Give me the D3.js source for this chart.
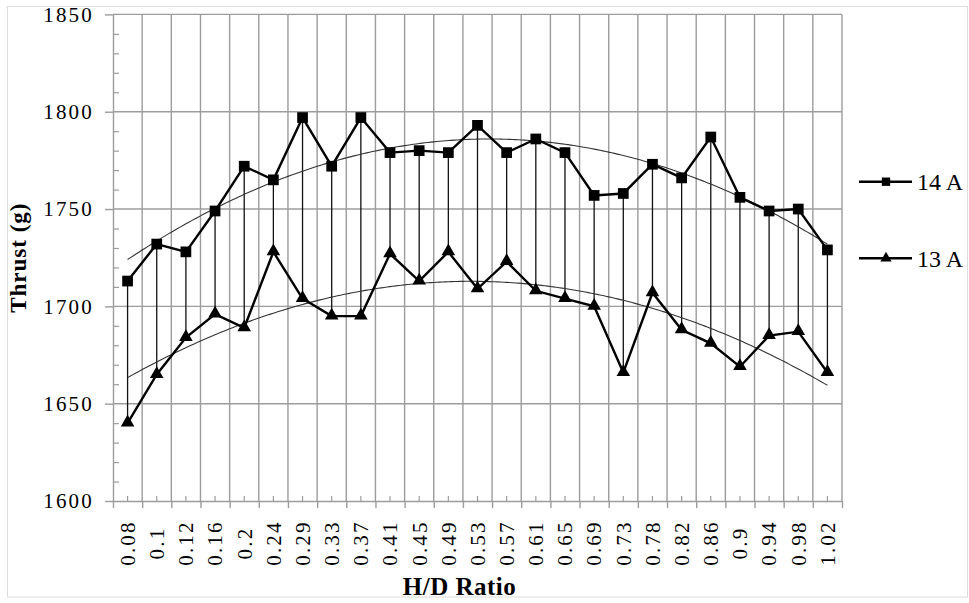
<!DOCTYPE html>
<html>
<head>
<meta charset="utf-8">
<script src="https://cdn.jsdelivr.net/npm/d3@7/dist/d3.min.js"></script>
<style>
  html, body { margin: 0; padding: 0; background: #fff; }
  svg { display: block; }
  text { font-family: 'Liberation Serif', 'Times New Roman', serif; }
</style>
</head>
<body>
<svg id="chart" width="969" height="603"></svg>
<script>
const categories = ["0.08","0.1","0.12","0.16","0.2","0.24","0.29","0.33","0.37","0.41","0.45","0.49","0.53","0.57","0.61","0.65","0.69","0.73","0.78","0.82","0.86","0.9","0.94","0.98","1.02"];
const thrust14A = [1713,1732,1728,1749,1772,1765,1797,1772,1797,1779,1780,1779,1793,1779,1786,1779,1757,1758,1773,1766,1787,1756,1749,1750,1729];
const thrust13A = [1640,1665,1684,1696,1689,1728,1704,1695,1695,1727,1713,1728,1709,1723,1708,1704,1700,1666,1707,1688,1681,1669,1685,1687,1666];
const seriesNames = ["14 A", "13 A"];
const yTicks = [1600,1650,1700,1750,1800,1850];
const yLabel = "Thrust (g)";
const xLabel = "H/D Ratio";

const svg = d3.select("#chart");
const L = 113, R = 842, T = 14.4, B = 501;
const serif = "'Liberation Serif', 'Times New Roman', serif";
const gridColor = "#9c9c9c";

// outer frame
svg.append("rect").attr("x", 7.5).attr("y", 6.5).attr("width", 960).attr("height", 590.5)
  .attr("fill", "none").attr("stroke", "#dcdcdc").attr("stroke-width", 1);

const x = d3.scaleBand().domain(categories).range([L, R]).padding(0);
const xEdge = d3.scaleLinear().domain([0, categories.length]).range([L, R]);
const y = d3.scaleLinear().domain([1600, 1850]).range([B, T]);
const cx = c => x(c) + x.bandwidth() / 2;

// horizontal gridlines
svg.append("g").selectAll("line").data(yTicks.filter(v => v > 1600)).join("line")
  .attr("x1", L).attr("x2", R).attr("y1", d => y(d)).attr("y2", d => y(d))
  .attr("stroke", gridColor).attr("stroke-width", 1.4);

// vertical gridlines at category boundaries
svg.append("g").selectAll("line").data(d3.range(1, categories.length + 1)).join("line")
  .attr("x1", d => xEdge(d)).attr("x2", d => xEdge(d)).attr("y1", T).attr("y2", B)
  .attr("stroke", gridColor).attr("stroke-width", 1.4);

// Y axis (major, left)
const yAxis = svg.append("g").attr("transform", `translate(${L},0)`)
  .call(d3.axisLeft(y).tickValues(yTicks).tickFormat(d3.format("d")).tickSize(8).tickPadding(13).tickSizeOuter(0));
yAxis.attr("font-family", null);
yAxis.select(".domain").attr("stroke", gridColor).attr("stroke-width", 1.4);
yAxis.selectAll(".tick line").attr("stroke", gridColor).attr("stroke-width", 1.4);
yAxis.selectAll(".tick text").style("font-family", serif).attr("font-size", 21)
  .attr("letter-spacing", 2.2).attr("fill", "#000").attr("x", -19);

// Y axis minor ticks (inside)
const yMinor = svg.append("g").attr("transform", `translate(${L},0)`)
  .call(d3.axisRight(y).tickValues(d3.range(1600, 1851, 10).filter(v => v % 50 !== 0)).tickSize(6).tickFormat(""));
yMinor.select(".domain").remove();
yMinor.selectAll(".tick line").attr("stroke", gridColor).attr("stroke-width", 1.2);

// X axis line + major ticks at boundaries
const xMajor = svg.append("g").attr("transform", `translate(0,${B})`)
  .call(d3.axisBottom(xEdge).tickValues(d3.range(0, categories.length + 1)).tickSize(7).tickSizeOuter(0).tickFormat(""));
xMajor.select(".domain").attr("stroke", gridColor).attr("stroke-width", 1.4);
xMajor.selectAll(".tick line").attr("stroke", gridColor).attr("stroke-width", 1.4);

// X axis minor ticks at category centres (inside) + labels
const xAxis = svg.append("g").attr("transform", `translate(0,${B})`)
  .call(d3.axisTop(x).tickSize(5).tickSizeOuter(0));
xAxis.attr("font-family", null);
xAxis.select(".domain").remove();
xAxis.selectAll(".tick line").attr("stroke", gridColor).attr("stroke-width", 1.2);
xAxis.selectAll(".tick text")
  .style("font-family", serif).attr("font-size", 21).attr("letter-spacing", 2.2).attr("fill", "#000")
  .attr("text-anchor", "middle").attr("x", 0).attr("y", 0).attr("dy", "0.35em")
  .attr("transform", "translate(0,42) rotate(-90)");

// High-low lines
svg.append("g").selectAll("line").data(categories).join("line")
  .attr("x1", d => cx(d)).attr("x2", d => cx(d))
  .attr("y1", (d, i) => y(Math.max(thrust14A[i], thrust13A[i])))
  .attr("y2", (d, i) => y(Math.min(thrust14A[i], thrust13A[i])))
  .attr("stroke", "#111").attr("stroke-width", 1.3);

// polynomial (order 2) least-squares trendline computed from the series
function quadFit(vals) {
  let s = [0,0,0,0,0], t = [0,0,0];
  vals.forEach((v, i) => {
    const xi = i + 1;
    for (let k = 0; k < 5; k++) s[k] += Math.pow(xi, k);
    for (let k = 0; k < 3; k++) t[k] += v * Math.pow(xi, k);
  });
  const M = [[s[0], s[1], s[2], t[0]], [s[1], s[2], s[3], t[1]], [s[2], s[3], s[4], t[2]]];
  for (let c = 0; c < 3; c++) {
    for (let r = c + 1; r < 3; r++) {
      const f = M[r][c] / M[c][c];
      for (let k = c; k < 4; k++) M[r][k] -= f * M[c][k];
    }
  }
  const b = [0,0,0];
  for (let r = 2; r >= 0; r--) {
    let sum = M[r][3];
    for (let k = r + 1; k < 3; k++) sum -= M[r][k] * b[k];
    b[r] = sum / M[r][r];
  }
  return xi => b[0] + b[1] * xi + b[2] * xi * xi;
}
const xCont = d3.scaleLinear().domain([1, categories.length]).range([cx(categories[0]), cx(categories[categories.length - 1])]);
[thrust14A, thrust13A].forEach(vals => {
  const f = quadFit(vals);
  const pts = d3.range(1, categories.length + 0.001, 0.1).map(t => [xCont(t), y(f(t))]);
  svg.append("path").attr("d", d3.line()(pts)).attr("fill", "none")
    .attr("stroke", "#333").attr("stroke-width", 1.1);
});

// Series lines
const line = d3.line().x((d, i) => cx(categories[i])).y(d => y(d));
[thrust14A, thrust13A].forEach(vals => {
  svg.append("path").attr("d", line(vals)).attr("fill", "none")
    .attr("stroke", "#000").attr("stroke-width", 2.4).attr("stroke-linejoin", "miter");
});

// Markers
const sq = d3.symbol().type(d3.symbolSquare).size(115);
const tri = d3.symbol().type(d3.symbolTriangle).size(80);
svg.append("g").selectAll("path").data(thrust14A).join("path")
  .attr("d", sq).attr("transform", (d, i) => `translate(${cx(categories[i])},${y(d)})`).attr("fill", "#000");
svg.append("g").selectAll("path").data(thrust13A).join("path")
  .attr("d", tri).attr("transform", (d, i) => `translate(${cx(categories[i])},${y(d) - 0.5})`).attr("fill", "#000");

// Legend
const legY = [181.7, 258.3];
const legendSym = [d3.symbol().type(d3.symbolSquare).size(70), d3.symbol().type(d3.symbolTriangle).size(55)];
seriesNames.forEach((name, i) => {
  const g = svg.append("g");
  g.append("line").attr("x1", 859).attr("x2", 912).attr("y1", legY[i]).attr("y2", legY[i])
    .attr("stroke", "#000").attr("stroke-width", 2.4);
  g.append("path").attr("d", legendSym[i]).attr("transform", `translate(886,${legY[i]})`).attr("fill", "#000");
  g.append("text").attr("x", 917).attr("y", legY[i]).attr("dy", "0.35em")
    .style("font-family", serif).attr("font-size", 24).attr("fill", "#000").text(name);
});

// Axis titles
svg.append("text").attr("transform", `translate(26,${(T + B) / 2}) rotate(-90)`)
  .attr("text-anchor", "middle").style("font-family", serif).attr("font-weight", "bold")
  .attr("font-size", 23).attr("letter-spacing", 1).attr("fill", "#000").text(yLabel);
svg.append("text").attr("x", 459.5).attr("y", 595)
  .attr("text-anchor", "middle").style("font-family", serif).attr("font-weight", "bold")
  .attr("font-size", 25).attr("letter-spacing", 0.5).attr("fill", "#000").text(xLabel);
</script>
</body>
</html>
